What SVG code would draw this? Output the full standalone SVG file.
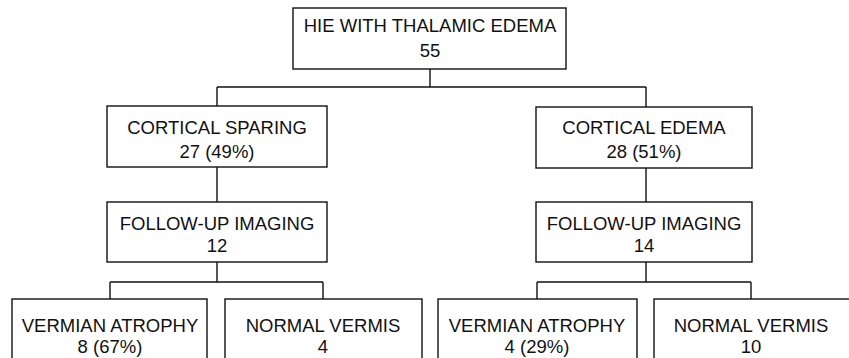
<svg xmlns="http://www.w3.org/2000/svg" width="849" height="358" viewBox="0 0 849 358">
<style>
.box{fill:#fff;stroke:#111;stroke-width:1.4}
.t{font-family:"Liberation Sans",Arial,sans-serif;font-size:18.5px;fill:#111;text-anchor:middle}
.c{fill:none;stroke:#111;stroke-width:1.4}
</style>
<rect width="849" height="358" fill="#fff"/>
<g id="connectors" class="c">
<path d="M430 69V87M217 87H646M217 87V106M646 87V107"/>
<path d="M217 167V202M646 168V202"/>
<path d="M217 262V282M110 282H323M110 282V299M323 282V299"/>
<path d="M646 262V282M537 282H751M537 282V299M751 282V299"/>
</g>
<g id="root"><rect class="box" x="293" y="8" width="273" height="61"/>
<text class="t" x="430" y="32">HIE WITH THALAMIC EDEMA</text><text class="t" x="430" y="57">55</text></g>
<g id="sparing"><rect class="box" x="107" y="106" width="220" height="61"/>
<text class="t" x="217" y="134">CORTICAL SPARING</text><text class="t" x="217" y="158">27 (49%)</text></g>
<g id="edema"><rect class="box" x="536" y="107" width="216" height="61"/>
<text class="t" x="644" y="134">CORTICAL EDEMA</text><text class="t" x="644" y="158">28 (51%)</text></g>
<g id="followup-l"><rect class="box" x="107" y="202" width="220" height="60"/>
<text class="t" x="217" y="229.5">FOLLOW-UP IMAGING</text><text class="t" x="217" y="252">12</text></g>
<g id="followup-r"><rect class="box" x="536" y="202" width="216" height="60"/>
<text class="t" x="644" y="229.5">FOLLOW-UP IMAGING</text><text class="t" x="644" y="252">14</text></g>
<g id="atrophy-l"><rect class="box" x="12" y="299" width="195" height="80"/>
<text class="t" x="110" y="332">VERMIAN ATROPHY</text><text class="t" x="110" y="353">8 (67%)</text></g>
<g id="normal-l"><rect class="box" x="225" y="299" width="197" height="80"/>
<text class="t" x="323" y="332">NORMAL VERMIS</text><text class="t" x="323" y="353">4</text></g>
<g id="atrophy-r"><rect class="box" x="438" y="299" width="199" height="80"/>
<text class="t" x="537" y="332">VERMIAN ATROPHY</text><text class="t" x="537" y="353">4 (29%)</text></g>
<g id="normal-r"><rect class="box" x="654" y="299" width="210" height="80"/>
<text class="t" x="751" y="332">NORMAL VERMIS</text><text class="t" x="751" y="353">10</text></g>
</svg>
